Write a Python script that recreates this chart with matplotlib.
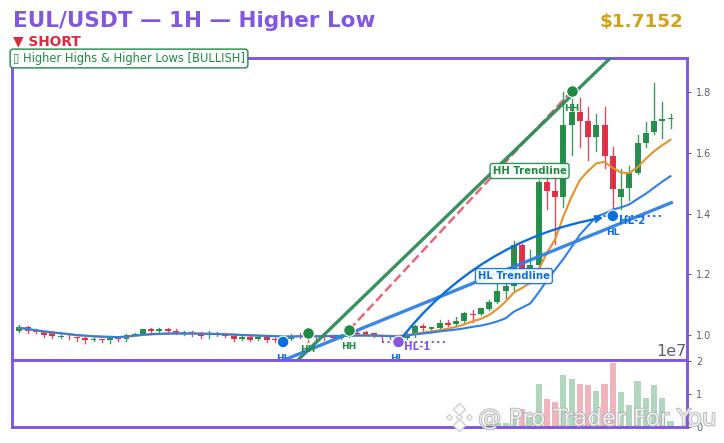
import matplotlib
matplotlib.use('Agg')
import matplotlib.pyplot as plt
import matplotlib.patheffects as pe
from matplotlib.lines import Line2D

# values
opens = [1.013,1.026,1.016,1.011,1.005,.995,.998,.995,.991,.985,.988,.984,.991,.988,1.001,1.003,1.02,1.013,1.02,1.013,
         1.005,1.01,1.007,.999,1.004,1.004,.998,.988,.992,.988,.992,.985,.984,.988,.997,.995,.996,.995,.992,.99,
         .999,1.006,1.01,1.005,.998,.997,.995,.99,1.0,1.03,1.021,1.024,1.038,1.035,1.046,1.069,1.069,1.086,1.108,1.145,
         1.16,1.296,1.214,1.23,1.504,1.474,1.455,1.69,1.735,1.703,1.651,1.69,1.589,1.455,1.485,1.532,1.632,1.667,1.706,1.712]
highs = [1.033,1.03,1.021,1.013,1.01,1.001,1.0,.995,.992,.991,.988,.997,.995,1.004,1.005,1.02,1.023,1.023,1.023,1.02,
         1.013,1.013,1.009,1.013,1.01,1.007,1.002,1.0,1.0,.997,.992,.99,.99,1.003,1.005,1.0,1.0,.997,.995,1.002,
         1.005,1.018,1.014,1.007,1.0,1.0,1.0,1.005,1.033,1.036,1.025,1.049,1.05,1.058,1.076,1.082,1.09,1.114,1.17,1.17,
         1.309,1.30,1.28,1.51,1.53,1.53,1.80,1.778,1.78,1.75,1.728,1.75,1.62,1.546,1.555,1.66,1.70,1.83,1.768,1.727]
lows = [1.011,1.008,1.005,.995,.991,.99,.988,.981,.974,.98,.978,.974,.981,.981,1.0,1.003,1.003,1.005,1.009,1.002,
        .999,.997,.991,.991,.998,.995,.981,.984,.979,.984,.976,.978,.978,.984,.989,.978,.985,.983,.985,.987,
        .995,1.001,1.0,.995,.984,.986,.99,.986,.992,1.014,1.014,1.024,1.03,1.033,1.044,1.044,1.066,1.083,1.105,1.121,
        1.143,1.21,1.19,1.22,1.416,1.30,1.42,1.592,1.62,1.576,1.605,1.551,1.41,1.416,1.444,1.53,1.62,1.662,1.65,1.68]
closes = [1.027,1.014,1.011,1.0,.997,.997,.996,.991,.984,.987,.984,.995,.988,1.0,1.004,1.02,1.013,1.02,1.013,1.007,
          1.01,1.005,.998,1.004,1.005,.998,.988,.994,.985,.992,.985,.984,.988,.997,.992,.99,.992,.992,.99,.999,
          1.003,1.002,1.001,.998,.995,.995,.997,1.0,1.03,1.022,1.025,1.04,1.033,1.046,1.074,1.065,1.088,1.11,1.145,1.16,
          1.296,1.214,1.23,1.504,1.474,1.455,1.69,1.735,1.703,1.651,1.69,1.589,1.48,1.482,1.535,1.632,1.665,1.705,1.71,1.716]
ema_fast = [1.023,1.019,1.015,1.011,1.008,1.005,1.002,.999,.997,.995,.994,.993,.993,.994,.997,1.0,1.002,1.003,1.004,1.005,
            1.005,1.005,1.005,1.004,1.004,1.003,1.002,1.0,.999,.998,.997,.996,.995,.995,.996,.996,.996,.996,.997,.997,
            .998,.999,.999,.998,.998,.997,.997,1.0,1.004,1.008,1.012,1.016,1.021,1.027,1.035,1.045,1.053,1.066,1.086,1.11,
            1.14,1.155,1.172,1.215,1.27,1.315,1.39,1.455,1.51,1.54,1.565,1.57,1.55,1.535,1.533,1.552,1.58,1.605,1.625,1.643]
ema_slow = [1.024,1.02,1.016,1.012,1.009,1.006,1.003,1.0,.998,.996,.995,.994,.993,.995,.998,1.001,1.003,1.004,1.005,1.005,
            1.005,1.005,1.004,1.004,1.003,1.002,1.001,1.0,.999,.998,.997,.996,.995,.995,.996,.996,.996,.996,.997,.997,
            .997,.998,.998,.998,.997,.996,.995,.998,1.002,1.005,1.008,1.012,1.015,1.018,1.022,1.027,1.031,1.037,1.045,1.055,
            1.077,1.09,1.104,1.14,1.18,1.215,1.25,1.29,1.33,1.36,1.39,1.40,1.413,1.42,1.43,1.448,1.465,1.485,1.505,1.523]
volumes = [1,2,1,1,1,1,1,1,2,1,1,2,1,2,1,2,1,1,1,1,
           1,1,1,1,1,1,2,1,1,1,1,1,1,2,1,1,1,1,1,1,
           1,1,1,1,1,1,1,2,3,2,1,2,2,2,3,3,4,80,120,120,
           360,540,300,1300,840,750,1570,1450,1300,1270,1090,1300,1940,1060,660,1390,870,1270,870,170]
volumes = [v * 1e4 for v in volumes]

hh_idx = [35, 40, 67]
hh_price = [1.0066, 1.0165, 1.803]
hl_idx = [32, 46, 72]
hl_price = [.977, .977, 1.392]
hh_trend_x = [33.8, 71.7]
hh_trend_y = [.9177, 1.912]
hl_trend_x = [32, 79.1]
hl_trend_y = [.9164, 1.4356]
hl1_x = [44, 52]
hl1_y = [.978, .978]
hl2_x = [70.2, 78.1]
hl2_y = [1.393, 1.393]

PURPLE = '#8257e0'
GREEN = '#1e8a44'
RED = '#dc2a40'
BLUE = '#0b6fdc'
LBLUE = '#2f80e4'
W, H = 724, 443

fig = plt.figure(figsize=(7.24, 4.43), dpi=100)
ax = fig.add_axes([12/W, 1-360/H, 675/W, 302/H])
vax = fig.add_axes([12/W, 1-427/H, 675/W, 67/H])
x = list(range(len(closes)))

# candles
for i in x:
    c = GREEN if closes[i] >= opens[i] else RED
    ax.plot([i, i], [lows[i], highs[i]], color=c, lw=1, alpha=.85, zorder=2)
    ax.bar(i, max(abs(closes[i]-opens[i]), .002), bottom=min(opens[i], closes[i]), width=.72, color=c, alpha=.95, zorder=3)
    vax.bar(i, volumes[i], width=.75, color=c, alpha=.35)

ax.plot(x, ema_fast, color='#e8902a', lw=1.5, zorder=4)
ax.plot(x, ema_slow, color=LBLUE, lw=1.5, zorder=5)

# trendlines
ax.plot(hh_idx[1:], hh_price[1:], color=RED, lw=1.8, ls='--', alpha=.7, zorder=5)
ax.plot(hh_trend_x, hh_trend_y, color='#2e8b57', lw=2.4, alpha=.95, zorder=6)
ax.plot(hl_trend_x, hl_trend_y, color=LBLUE, lw=2.4, alpha=.95, zorder=6)
ax.plot(hl1_x, hl1_y, color=PURPLE, lw=1.5, ls=':', zorder=6)
ax.plot(hl2_x, hl2_y, color=BLUE, lw=1.5, ls=':', zorder=6)
ax.annotate('', xy=(hl_idx[2], hl_price[2]), xytext=(hl_idx[1], hl_price[1]), zorder=6,
            arrowprops=dict(arrowstyle='->', color=BLUE, lw=1.7, connectionstyle='arc3,rad=-0.2', shrinkA=0, shrinkB=7))

# pivots
ax.scatter(hh_idx, hh_price, s=70, color=GREEN, edgecolor='white', linewidth=.8, zorder=8)
ax.scatter(hl_idx, hl_price, s=70, color=[BLUE, PURPLE, BLUE], edgecolor='white', linewidth=.8, zorder=8)
for i, p in zip(hh_idx, hh_price):
    ax.annotate('HH', (i, p), xytext=(0, -17), textcoords='offset pixels', ha='center', va='center',
                color=GREEN, fontsize=6.6, fontweight='bold', zorder=9)
for i, p, off in zip(hl_idx, hl_price, [0, -2, 0]):
    ax.annotate('HL', (i, p), xytext=(off, -17), textcoords='offset pixels', ha='center', va='center',
                color=BLUE, fontsize=6.6, fontweight='bold', zorder=9)
ax.annotate('HL-1', (hl1_x[0], hl1_y[0]), xytext=(35, -5), textcoords='offset pixels', ha='center', va='center',
            color=PURPLE, fontsize=7.4, fontweight='bold', zorder=9)
ax.annotate('HL-2', (hl2_x[0], hl2_y[0]), xytext=(34, -5), textcoords='offset pixels', ha='center', va='center',
            color=BLUE, fontsize=7.4, fontweight='bold', zorder=9)
ax.text(61.9, 1.54, 'HH Trendline', ha='center', va='center', color=GREEN, fontsize=7.3, fontweight='bold', zorder=10,
        bbox=dict(boxstyle='round,pad=0.25', fc='white', ec=GREEN, lw=1, alpha=.9))
ax.text(60, 1.194, 'HL Trendline', ha='center', va='center', color=BLUE, fontsize=7.3, fontweight='bold', zorder=10,
        bbox=dict(boxstyle='round,pad=0.25', fc='white', ec=BLUE, lw=1, alpha=.9))

ax.set_xlim(-.89, 81)
ax.set_ylim(.9177, 1.912)
ax.set_xticks([])
ax.set_yticks([1.0, 1.2, 1.4, 1.6, 1.8])
vax.set_xlim(-.89, 81)
vax.set_ylim(0, 2.03e7)
vax.set_xticks([])
vax.set_yticks([0, 1e7, 2e7])
for a in (ax, vax):
    a.yaxis.tick_right()
    a.tick_params(axis='y', labelsize=7, colors='#5a6070', length=3, width=.8)
    for s in a.spines.values():
        s.set_color(PURPLE)
        s.set_linewidth(2.1)
vax.yaxis.get_offset_text().set_size(11.5)
vax.yaxis.get_offset_text().set_color('#5a6070')

# header
fig.text(13/W, 1-21/H, 'EUL/USDT — 1H — Higher Low', color=PURPLE, fontsize=15.5, fontweight='bold', va='center')
fig.text(683/W, 1-22/H, '$1.7152', color='#d4a017', fontsize=13.2, fontweight='bold', va='center', ha='right')
fig.text(13/W, 1-41/H, '▼ SHORT', color=RED, fontsize=9.9, fontweight='bold', va='center')
fig.text(13/W, 1-58.5/H, '▯ Higher Highs & Higher Lows [BULLISH]', color=GREEN, fontsize=8.3, va='center', zorder=20,
         bbox=dict(boxstyle='round,pad=0.25', fc='white', ec=GREEN, lw=1))

# watermark
wm_fx = [pe.withStroke(linewidth=1.2, foreground='#a8a8a8')]
fig.text(478/W, 1-419/H, '@ Pro Trader For You', color='#f4f4f4', alpha=.85, fontsize=16.7, va='center', zorder=30,
         path_effects=wm_fx)
logo_x = [459, 449, 469, 459, 459]
logo_y = [409, 417, 417, 417, 425]
logo_size = [6, 3, 3, 3, 6]
for lx, ly, ls in zip(logo_x, logo_y, logo_size):
    fig.add_artist(Line2D([lx/W], [1-ly/H], marker='D', ms=ls, mfc='white', mec='#d2d2d2', mew=1,
                          transform=fig.transFigure, zorder=30))

fig.savefig('out.png', dpi=100)
